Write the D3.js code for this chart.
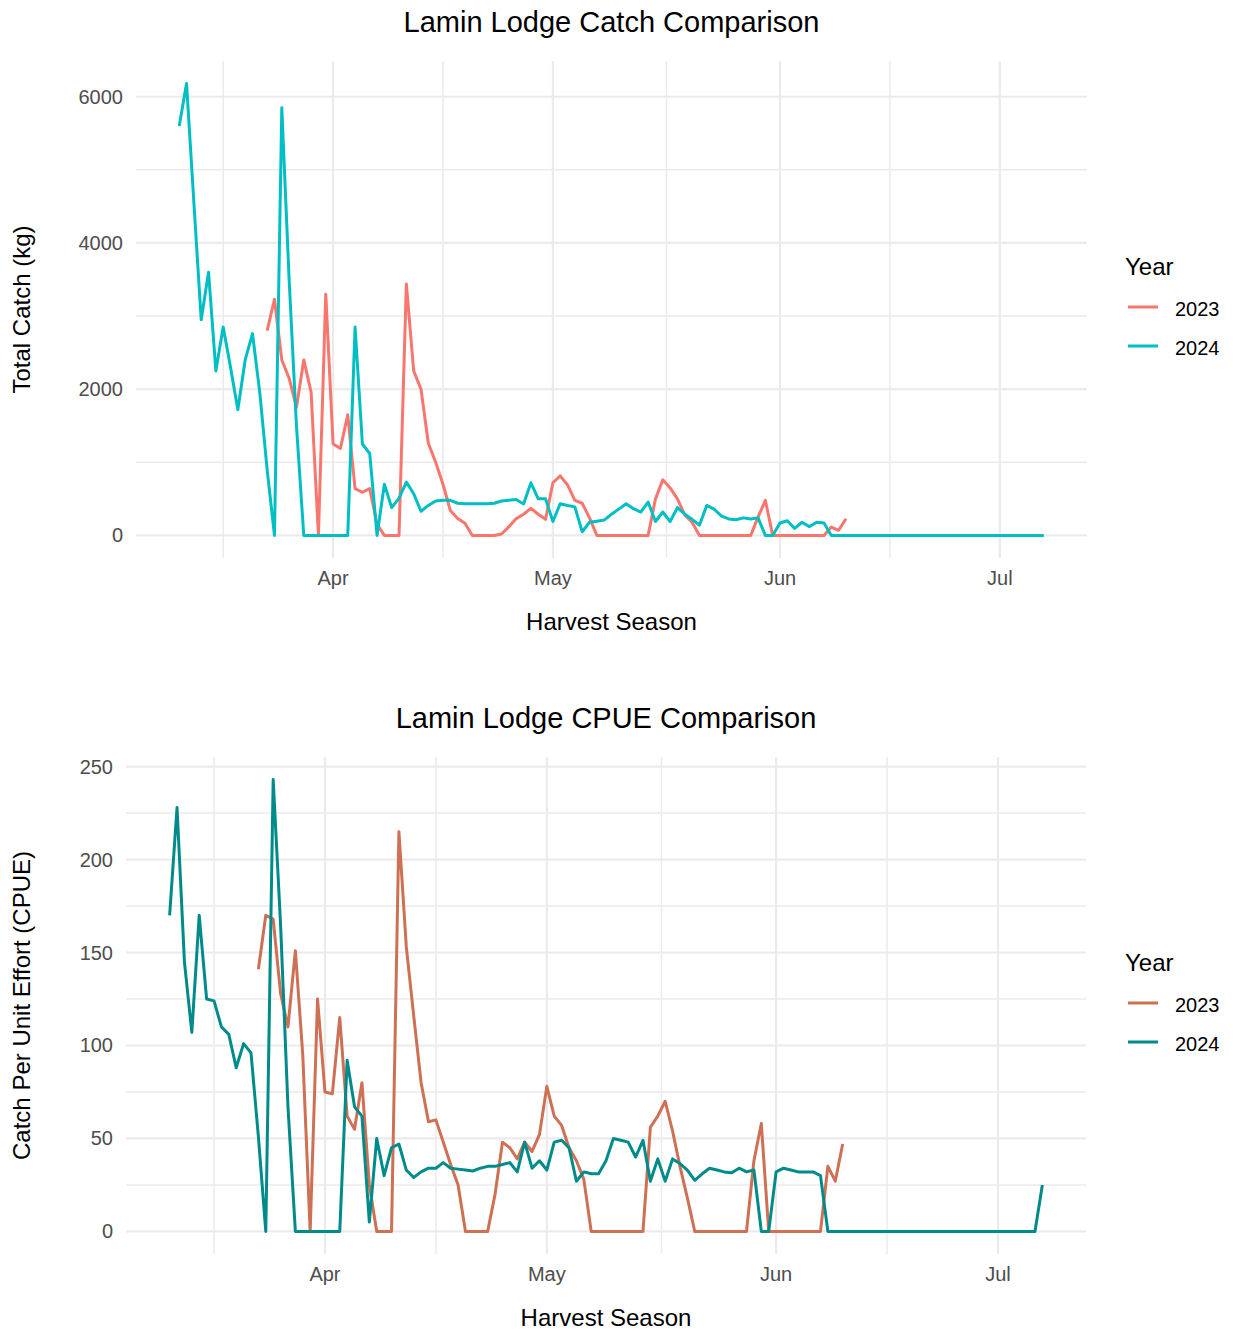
<!DOCTYPE html>
<html>
<head>
<meta charset="utf-8">
<script src="https://cdn.jsdelivr.net/npm/d3@7"></script>
<style>
  body { margin: 0; background: #fff; }
  svg text { font-family: "Liberation Sans", Arial, sans-serif; }
</style>
</head>
<body>
<svg id="chart" width="1233" height="1331"></svg>
<script>
// season days share one dummy year so both seasons sit on the same axis
const years = ['2023', '2024'];
const start2023 = '2000-03-23';
const start2024 = '2000-03-11';

// daily total catch (kg), Mar 23 -> Jun 10
const catch2023 = [
  2800, 3230, 2400, 2150, 1750, 2400, 1960, 0, 3300,
  1250, 1190, 1650, 640, 590, 640, 150, 0, 0, 0, 3440, 2250, 2000, 1260, 1000, 700, 340, 230, 165, 0,
  0, 0, 0, 20, 120, 230, 290, 370, 290, 220,
  720, 815, 690, 480, 440, 240, 0, 0, 0, 0, 0, 0, 0, 0, 500, 760, 650, 500, 280, 180, 0,
  0, 0, 0, 0, 0, 0, 0, 250, 480, 0,
  0, 0, 0, 0, 0, 0, 0, 114, 70, 228
];
// daily total catch (kg), Mar 11 -> Jul 7
const catch2024 = [
  5600, 6180, 4550, 2950, 3600, 2250, 2850, 2300, 1720, 2400, 2760, 1950, 900, 0, 5850, 3500, 1500, 0, 0, 0, 0,
  0, 0, 0, 2850, 1250, 1120, 0, 700, 380, 510, 730, 570, 330, 410, 470, 480, 480, 440, 434, 434, 434, 434,
  440, 470, 480, 490, 430, 720, 500, 500,
  190, 434, 410, 390, 50, 180, 195, 210, 290, 360, 434, 365, 320, 456, 190, 320, 190, 380, 290, 220, 140,
  410, 360, 265, 225, 215, 240, 225, 240, 0, 0,
  170, 200, 95, 180, 120, 180, 170, 0, 0, 0, 0, 0, 0, 0, 0, 0, 0, 0, 0, 0, 0, 0, 0, 0, 0, 0, 0, 0, 0, 0,
  0, 0, 0, 0, 0, 0, 0
];
// daily catch per unit effort, Mar 23 -> Jun 10
const cpue2023 = [
  141, 170, 168, 128, 110, 151, 95, 0, 125,
  75, 74, 115, 62, 55, 80, 25, 0, 0, 0, 215, 153, 116, 80, 59, 60, 48, 36, 25, 0,
  0, 0, 0, 20, 48, 45, 39, 48, 43, 52,
  78, 62, 57, 45, 38, 28, 0, 0, 0, 0, 0, 0, 0, 0, 56, 62, 70, 54, 35, 18, 0,
  0, 0, 0, 0, 0, 0, 0, 38, 58, 0,
  0, 0, 0, 0, 0, 0, 0, 35, 27, 47
];
// daily catch per unit effort, Mar 11 -> Jul 7
const cpue2024 = [
  170, 228, 145, 107, 170, 125, 124, 110, 106, 88, 101, 96, 51, 0, 243, 165, 67, 0, 0, 0, 0,
  0, 0, 0, 92, 67, 62, 5, 50, 30, 45, 47, 33, 29, 32, 34, 34, 37, 34, 33.5, 33, 32.5, 34,
  35, 35, 36, 37, 32, 48, 34, 38,
  33, 48, 49, 45, 27, 32, 31, 31, 38, 50, 49, 48, 40, 49, 27, 39, 27, 39, 36.5, 33, 27.5,
  31, 34, 33, 32, 31.5, 34, 32, 33, 0, 0,
  32, 34, 33, 32, 32, 32, 30, 0, 0, 0, 0, 0, 0, 0, 0, 0, 0, 0, 0, 0, 0, 0, 0, 0, 0, 0, 0, 0, 0, 0,
  0, 0, 0, 0, 0, 0, 25
];
const catchTicks = [0, 2000, 4000, 6000];
const cpueTicks = [0, 50, 100, 150, 200, 250];

const svg = d3.select('#chart');

function toSeries(start, values) {
  const d0 = d3.utcParse('%Y-%m-%d')(start);
  return values.map((v, i) => ({ date: d3.utcDay.offset(d0, i), value: v }));
}

function midpoints(major, lo, hi) {
  const step = major[1] - major[0];
  const ext = [+major[0] - step, ...major.map(Number), +major[major.length - 1] + step];
  return d3.pairs(ext, (a, b) => (a + b) / 2).filter(v => v >= lo && v <= hi);
}

function drawPanel(p) {
  const g = svg.append('g');
  const all = p.series.flat();

  // ggplot style 5% expansion on both axes
  const [t0, t1] = d3.extent(all, d => d.date);
  const xPad = (t1 - t0) * 0.05;
  const x = d3.scaleUtc()
    .domain([new Date(+t0 - xPad), new Date(+t1 + xPad)])
    .range([p.left, p.right]);
  const yMax = d3.max(all, d => d.value);
  const y = d3.scaleLinear()
    .domain([-yMax * 0.05, yMax * 1.05])
    .range([p.bottom, p.top]);

  const xMajor = d3.utcMonth.range(x.domain()[0], x.domain()[1]);
  const xMinor = midpoints(xMajor, +x.domain()[0], +x.domain()[1]);
  const yMinor = midpoints(p.yTicks, y.domain()[0], y.domain()[1]);

  //GRID
  const grid = g.append('g').attr('stroke', '#EBEBEB');
  grid.selectAll('.ymin').data(yMinor).join('line')
    .attr('x1', p.left).attr('x2', p.right)
    .attr('y1', d => y(d)).attr('y2', d => y(d))
    .attr('stroke-width', 1.5);
  grid.selectAll('.xmin').data(xMinor).join('line')
    .attr('x1', d => x(d)).attr('x2', d => x(d))
    .attr('y1', p.top).attr('y2', p.bottom)
    .attr('stroke-width', 1.5);
  grid.selectAll('.ymaj').data(p.yTicks).join('line')
    .attr('x1', p.left).attr('x2', p.right)
    .attr('y1', d => y(d)).attr('y2', d => y(d))
    .attr('stroke-width', 2.2);
  grid.selectAll('.xmaj').data(xMajor).join('line')
    .attr('x1', d => x(d)).attr('x2', d => x(d))
    .attr('y1', p.top).attr('y2', p.bottom)
    .attr('stroke-width', 2.2);

  //LINES
  const line = d3.line().x(d => x(d.date)).y(d => y(d.value));
  g.selectAll('.series').data(p.series).join('path')
    .attr('fill', 'none')
    .attr('stroke', (d, i) => p.colors[i])
    .attr('stroke-width', 3)
    .attr('stroke-linejoin', 'round')
    .attr('d', line);

  //AXES TEXT
  g.selectAll('.ylab').data(p.yTicks).join('text')
    .attr('x', p.left - 13)
    .attr('y', d => y(d) + 7)
    .attr('text-anchor', 'end')
    .attr('font-size', 20)
    .attr('fill', '#4D4D4D')
    .text(d => d);
  g.selectAll('.xlab').data(xMajor).join('text')
    .attr('x', d => x(d))
    .attr('y', p.bottom + 27)
    .attr('text-anchor', 'middle')
    .attr('font-size', 20)
    .attr('fill', '#4D4D4D')
    .text(d3.utcFormat('%b'));

  const cx = (p.left + p.right) / 2;
  const cy = (p.top + p.bottom) / 2;
  g.append('text')
    .attr('x', cx).attr('y', p.top - 29)
    .attr('text-anchor', 'middle')
    .attr('font-size', 29)
    .text(p.title);
  g.append('text')
    .attr('x', cx).attr('y', p.bottom + 72)
    .attr('text-anchor', 'middle')
    .attr('font-size', 24)
    .text('Harvest Season');
  g.append('text')
    .attr('transform', `translate(30,${cy}) rotate(-90)`)
    .attr('text-anchor', 'middle')
    .attr('font-size', 24)
    .text(p.yTitle);

  //LEGEND
  const lg = g.append('g');
  lg.append('text')
    .attr('x', 1125).attr('y', cy - 34.5)
    .attr('font-size', 24)
    .text('Year');
  const item = lg.selectAll('.item').data(years).join('g')
    .attr('transform', (d, i) => `translate(0,${cy - 2.5 + i * 39})`);
  item.append('line')
    .attr('x1', 1128).attr('x2', 1158)
    .attr('stroke', (d, i) => p.colors[i])
    .attr('stroke-width', 3);
  item.append('text')
    .attr('x', 1175).attr('y', 8.5)
    .attr('font-size', 20)
    .text(d => d);
}

drawPanel({
  left: 136, right: 1087, top: 61, bottom: 558,
  title: 'Lamin Lodge Catch Comparison',
  yTitle: 'Total Catch (kg)',
  yTicks: catchTicks,
  colors: ['#F8766D', '#00BFC4'],
  series: [toSeries(start2023, catch2023), toSeries(start2024, catch2024)]
});

drawPanel({
  left: 126, right: 1086, top: 757, bottom: 1254,
  title: 'Lamin Lodge CPUE Comparison',
  yTitle: 'Catch Per Unit Effort (CPUE)',
  yTicks: cpueTicks,
  colors: ['#CD7054', '#008B8B'],
  series: [toSeries(start2023, cpue2023), toSeries(start2024, cpue2024)]
});
</script>
</body>
</html>
